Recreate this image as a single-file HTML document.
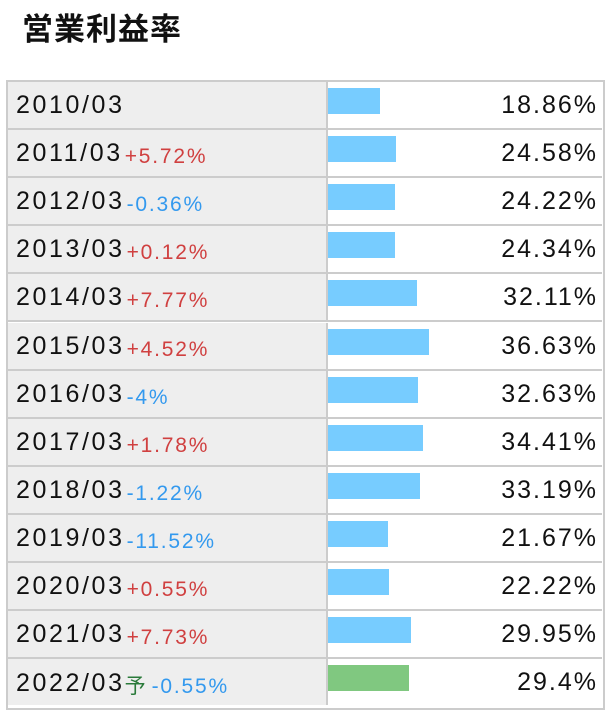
<!DOCTYPE html>
<html><head><meta charset="utf-8"><style>
body{margin:0;width:610px;height:712px;background:#fff;position:relative;overflow:hidden;font-family:"Liberation Sans","Noto Sans CJK JP",sans-serif}
.t{position:absolute;left:22px;top:4px;font-size:31px;font-weight:bold;color:#111;letter-spacing:1px}
.tb{position:absolute;left:6px;top:80px;width:595px;height:626px;border:2px solid #ccc}
.r{position:absolute;left:8px;width:594px;height:46px;border-bottom:2px solid #ccc}
.l{position:absolute;left:0;top:0;width:318px;height:46px;background:#eee;border-right:2px solid #ccc}
.d{position:absolute;left:8px;top:9px;font-size:25px;color:#111;white-space:nowrap;letter-spacing:2.6px}
.d span{font-size:21px;margin-left:2px;letter-spacing:1.8px;position:relative;top:2px}
.p{color:#d04040}.m{color:#3399ee}
.b{position:absolute;left:320px;top:6px;height:26px;background:#77ccff}
.v{position:absolute;right:6px;top:9px;font-size:25px;color:#111;letter-spacing:2px;margin-right:-2px}
</style></head><body>
<div class="t">営業利益率</div>
<div class="tb"></div>
<div id="rows"></div>
<script>
var d=[["2010/03","",18.86,"18.86%"],["2011/03","+5.72%",24.58,"24.58%"],["2012/03","-0.36%",24.22,"24.22%"],["2013/03","+0.12%",24.34,"24.34%"],["2014/03","+7.77%",32.11,"32.11%"],["2015/03","+4.52%",36.63,"36.63%"],["2016/03","-4%",32.63,"32.63%"],["2017/03","+1.78%",34.41,"34.41%"],["2018/03","-1.22%",33.19,"33.19%"],["2019/03","-11.52%",21.67,"21.67%"],["2020/03","+0.55%",22.22,"22.22%"],["2021/03","+7.73%",29.95,"29.95%"],["2022/03","-0.55%",29.4,"29.4%"]];
var h="";
d.forEach(function(r,i){var top=82+i*48.1;var last=i==12;
var c=r[1]?'<span class="'+(r[1][0]=="+"?"p":"m")+'">'+r[1]+'</span>':"";
if(last)c='<span style="color:#2a7a3a;letter-spacing:0;margin-left:0">予</span>'+c.replace('class="m"','class="m" style="margin-left:6px"');
h+='<div class="r" style="top:'+top+'px;'+(last?'border-bottom:none':'')+'"><div class="l"><div class="d">'+r[0]+c+'</div></div><div class="b" style="width:'+(r[2]*2.76).toFixed(1)+'px;'+(last?'background:#80c880':'')+'"></div><div class="v">'+r[3]+'</div></div>';});
document.getElementById("rows").innerHTML=h;
</script>
</body></html>
